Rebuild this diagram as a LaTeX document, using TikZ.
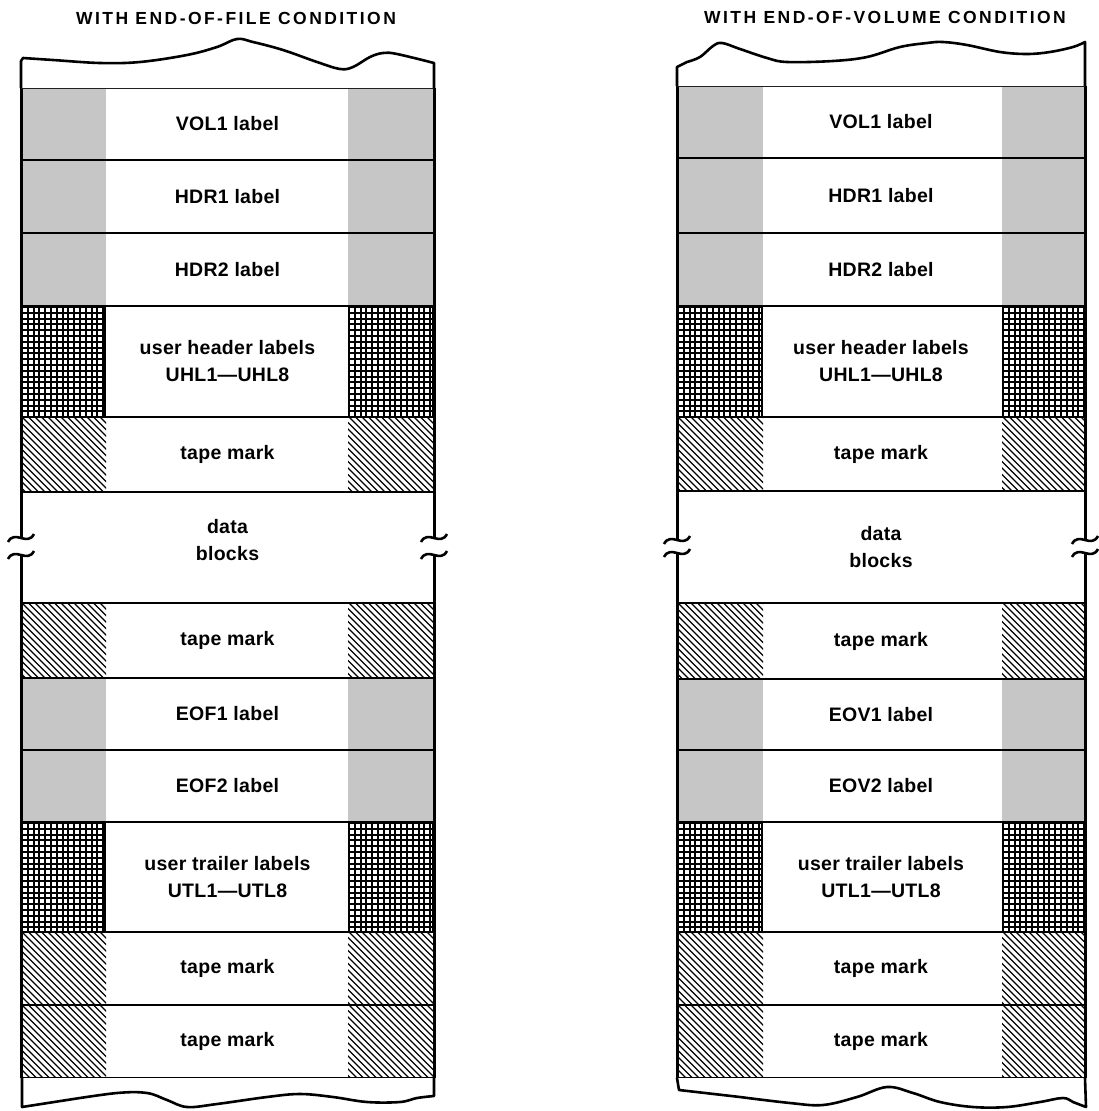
\documentclass[tikz,border=0pt]{standalone}
\usepackage{fontspec}
\setmainfont{Liberation Sans}[LetterSpace=1.5]
\newfontfamily\titlefont{Liberation Sans}[LetterSpace=14]
\definecolor{stip}{RGB}{198,198,198}
\tikzset{
  sepline/.style={line width=2.5pt},
  sideline/.style={line width=3pt},
  endpiece/.style={line width=2.6pt, fill=white, line join=round},
  breakmark/.style={line width=2.6pt},
  rowtext/.style={font=\bfseries\fontsize{19.5}{27}\selectfont, align=center, inner sep=0pt},
  titletext/.style={font=\titlefont\bfseries\fontsize{17.5}{20}\selectfont, inner sep=0pt},
}
\newcommand{\patS}[4]{\fill[stip] (#1,#2) rectangle (#3,#4);}
\newcommand{\patG}[4]{\begin{scope}\clip (#1,#2) rectangle (#3,#4);
  \foreach \t in {1,6.8,...,120}{\draw[line width=2.1pt] ({#1+\t},#2) -- ({#1+\t},#4);
    \draw[line width=2.1pt] (#1,{#2+\t}) -- (#3,{#2+\t});}
  \draw[line width=2.1pt] (#3-1,#2) -- (#3-1,#4);\end{scope}}
\newcommand{\patH}[4]{\begin{scope}\clip (#1,#2) rectangle (#3,#4);
  \foreach \t in {-90,-83.5,...,100}{\draw[line width=1.2pt] ({#1+\t},#2) -- ({#1+\t+90},{#2+90});}\end{scope}}
\newcommand{\patD}[4]{}
\newcommand{\brkmark}[2]{\draw[breakmark] ({#1-13},{#2+4}) .. controls ({#1-6},{#2-9}) and ({#1+6},{#2+9}) .. ({#1+13},{#2-4});}
\begin{document}
\begin{tikzpicture}[x=1pt,y=-1pt]
\useasboundingbox (0,0) rectangle (1098,1111);
% ---------- titles
\node[titletext] (titleL) at (236,18) {WITH END-OF-FILE CONDITION};
\node[titletext] (titleR) at (885,17) {WITH END-OF-VOLUME CONDITION};
% ---------- left tape
\def\xl{21}\def\il{106}\def\ir{348}\def\xr{434}
\foreach \ya/\yb/\k/\nm/\dy/\txt in {88/160/S/LA/0/{VOL1 label}, 160/233/S/LB/0/{HDR1 label}, 233/306/S/LC/0/{HDR2 label}, 306/417/G/LD/0/{user header labels\\UHL1—UHL8}, 417/492/H/LE/0/{tape mark}, 492/603/D/LF/-7/{data\\blocks}, 603/678/H/LG/0/{tape mark}, 678/750/S/LH/0/{EOF1 label}, 750/822/S/LI/0/{EOF2 label}, 822/932/G/LJ/0/{user trailer labels\\UTL1—UTL8}, 932/1005/H/LK/0/{tape mark}, 1005/1078/H/LL/0/{tape mark}}{
  \csname pat\k\endcsname{\xl}{\ya}{\il}{\yb}
  \csname pat\k\endcsname{\ir}{\ya}{\xr}{\yb}
  \node[rowtext] (\nm) at ({(\xl+\xr)/2},{(\ya+\yb)/2+\dy}) {\txt};
}
\foreach \y in {88,160,233,306,417,492,603,678,750,822,932,1005,1078}{\draw[sepline] (\xl,\y) -- (\xr,\y);}
\draw[sideline] (\xl,88) -- (\xl,538) (\xl,555) -- (\xl,1078);
\draw[sideline] (\xr,88) -- (\xr,538) (\xr,555) -- (\xr,1078);
\brkmark{\xl}{538}\brkmark{\xl}{555}
\brkmark{\xr}{538}\brkmark{\xr}{555}
\draw[endpiece] (21,88) -- (21,61) -- plot[smooth,tension=0.6] coordinates {(23,58) (53,60) (100,63) (140,62) (187,55) (217,47) (237,39) (253,42) (283,50) (317,62) (340,69) (353,67) (370,57) (383,53) (397,54) (434,63)} -- (434,88);
\draw[endpiece] (22,1078) -- (22,1107) -- plot[smooth,tension=0.6] coordinates {(67,1100) (117,1093) (147,1093) (167,1100) (187,1107) (217,1104) (267,1097) (300,1094) (333,1097) (367,1102) (400,1102) (417,1098) (434,1096)} -- (434,1078);
% ---------- right tape
\def\xl{677}\def\il{763}\def\ir{1002}\def\xr{1085}
\foreach \ya/\yb/\k/\nm/\dy/\txt in {86/158/S/RA/0/{VOL1 label}, 158/233/S/RB/0/{HDR1 label}, 233/306/S/RC/0/{HDR2 label}, 306/417/G/RD/0/{user header labels\\UHL1—UHL8}, 417/491/H/RE/0/{tape mark}, 491/603/D/RF/0/{data\\blocks}, 603/679/H/RG/0/{tape mark}, 679/750/S/RH/0/{EOV1 label}, 750/822/S/RI/0/{EOV2 label}, 822/932/G/RJ/0/{user trailer labels\\UTL1—UTL8}, 932/1005/H/RK/0/{tape mark}, 1005/1078/H/RL/0/{tape mark}}{
  \csname pat\k\endcsname{\xl}{\ya}{\il}{\yb}
  \csname pat\k\endcsname{\ir}{\ya}{\xr}{\yb}
  \node[rowtext] (\nm) at ({(\xl+\xr)/2},{(\ya+\yb)/2+\dy}) {\txt};
}
\foreach \y in {86,158,233,306,417,491,603,679,750,822,932,1005,1078}{\draw[sepline] (\xl,\y) -- (\xr,\y);}
\draw[sideline] (\xl,86) -- (\xl,540) (\xl,553) -- (\xl,1078);
\draw[sideline] (\xr,86) -- (\xr,540) (\xr,553) -- (\xr,1078);
\brkmark{\xl}{540}\brkmark{\xl}{553}
\brkmark{\xr}{540}\brkmark{\xr}{553}
\draw[endpiece] (677,86) -- (677,67) -- plot[smooth,tension=0.6] coordinates {(687,62) (700,57) (713,46) (722,43) (740,49) (767,58) (787,62) (833,61) (867,57) (900,47) (927,43) (943,42) (967,45) (1000,52) (1027,54) (1050,52) (1073,47) (1085,42)} -- (1085,86);
\draw[endpiece] (677,1078) -- (679,1090) -- plot[smooth,tension=0.6] coordinates {(740,1097) (790,1103) (823,1105) (857,1097) (887,1087) (913,1093) (940,1102) (973,1107) (1007,1107) (1040,1102) (1063,1098) (1073,1102) (1086,1107)} -- (1085,1078);
\end{tikzpicture}
\end{document}
